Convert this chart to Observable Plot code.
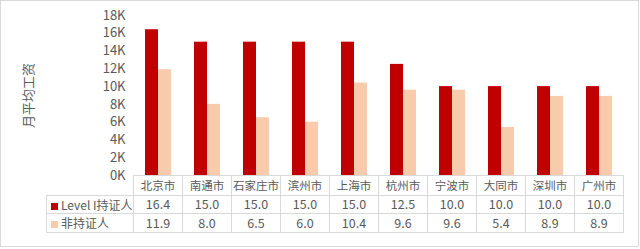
<!DOCTYPE html>
<html><head><meta charset="utf-8">
<script src="https://cdn.jsdelivr.net/npm/d3@7"></script>
<script src="https://cdn.jsdelivr.net/npm/@observablehq/plot@0.6"></script>
<style>
body{margin:0;background:#fff;}
#wrap{position:relative;width:640px;height:249px;font-family:"Noto Sans CJK SC","Noto Sans",sans-serif;color:#595959;overflow:hidden;}
#frame{position:absolute;left:0;top:0;width:639px;height:247px;border:1px solid #d9d9d9;box-sizing:border-box;pointer-events:none;}
#chart{position:absolute;left:0;top:0;}
table{position:absolute;border-collapse:collapse;table-layout:fixed;font-size:12.5px;color:#595959;}
td{border:1px solid #d9d9d9;padding:0;text-align:center;white-space:nowrap;line-height:1;overflow:visible;}
td.city{font-size:11.5px;}
td.corner{border-top:hidden;border-left:hidden;}
td.lab{text-align:left;padding-left:4px;font-size:12px;}
.sw{display:inline-block;width:7px;height:7px;margin-right:3px;vertical-align:0px;}
</style></head>
<body>
<div id="wrap"><div id="chart"></div><div id="frame"></div></div>
<script>
const cities = ["北京市","南通市","石家庄市","滨州市","上海市","杭州市","宁波市","大同市","深圳市","广州市"];
const series = ["Level I持证人","非持证人"];
const certified = [16.4,15.0,15.0,15.0,15.0,12.5,10.0,10.0,10.0,10.0];
const nonCertified = [11.9,8.0,6.5,6.0,10.4,9.6,9.6,5.4,8.9,8.9];
const colors = ["#C00000","#F8CBAD"];
const yTicks = [0,2000,4000,6000,8000,10000,12000,14000,16000,18000];
const yTitle = "月平均工资";

const rows = cities.flatMap((c,i)=>[
  {city:c, series:series[0], value:certified[i]*1000},
  {city:c, series:series[1], value:nonCertified[i]*1000}
]);

const chart = Plot.plot({
  width:640, height:249,
  marginLeft:130, marginRight:15, marginTop:15, marginBottom:74,
  style:{fontFamily:'"Noto Sans CJK SC","Noto Sans",sans-serif', fontSize:"13px", color:"#595959", background:"transparent"},
  fx:{domain:cities, padding:0, axis:null},
  x:{domain:series, paddingInner:0, paddingOuter:0.77, axis:null},
  y:{domain:[0,18000]},
  color:{domain:series, range:colors},
  marks:[
    Plot.barY(rows,{fx:"city", x:"series", y:"value", fill:"series"}),
    Plot.axisY({ticks:yTicks, tickFormat:d=>d/1000+"K", tickSize:0, tickPadding:8, label:yTitle, labelAnchor:"center", labelOffset:110, labelArrow:false, fontSize:13})
  ]
});
document.getElementById("chart").appendChild(chart);

// table below the chart, aligned to the fx scale
const fx = chart.scale("fx");
const bw = fx.bandwidth;
const x0 = fx.apply(cities[0]);
const labW = 87;
const table = d3.select("#wrap").insert("table","#frame")
  .style("left",(x0-labW)+"px").style("top","175px")
  .style("width",(labW+bw*cities.length)+"px");
const cg = table.append("colgroup");
cg.append("col").style("width",labW+"px");
cities.forEach(()=>cg.append("col").style("width",bw+"px"));
const r1 = table.append("tr").style("height","20px");
r1.append("td").attr("class","corner");
cities.forEach(c=>r1.append("td").attr("class","city").text(c));
const vals = [certified, nonCertified];
const hts = ["18px","19px"];
series.forEach((s,si)=>{
  const tr = table.append("tr").style("height",hts[si]);
  const td = tr.append("td").attr("class","lab");
  td.append("span").attr("class","sw").style("background",colors[si]);
  td.append("span").text(s);
  vals[si].forEach(v=>tr.append("td").text(v.toFixed(1)));
});
</script>
</body></html>
